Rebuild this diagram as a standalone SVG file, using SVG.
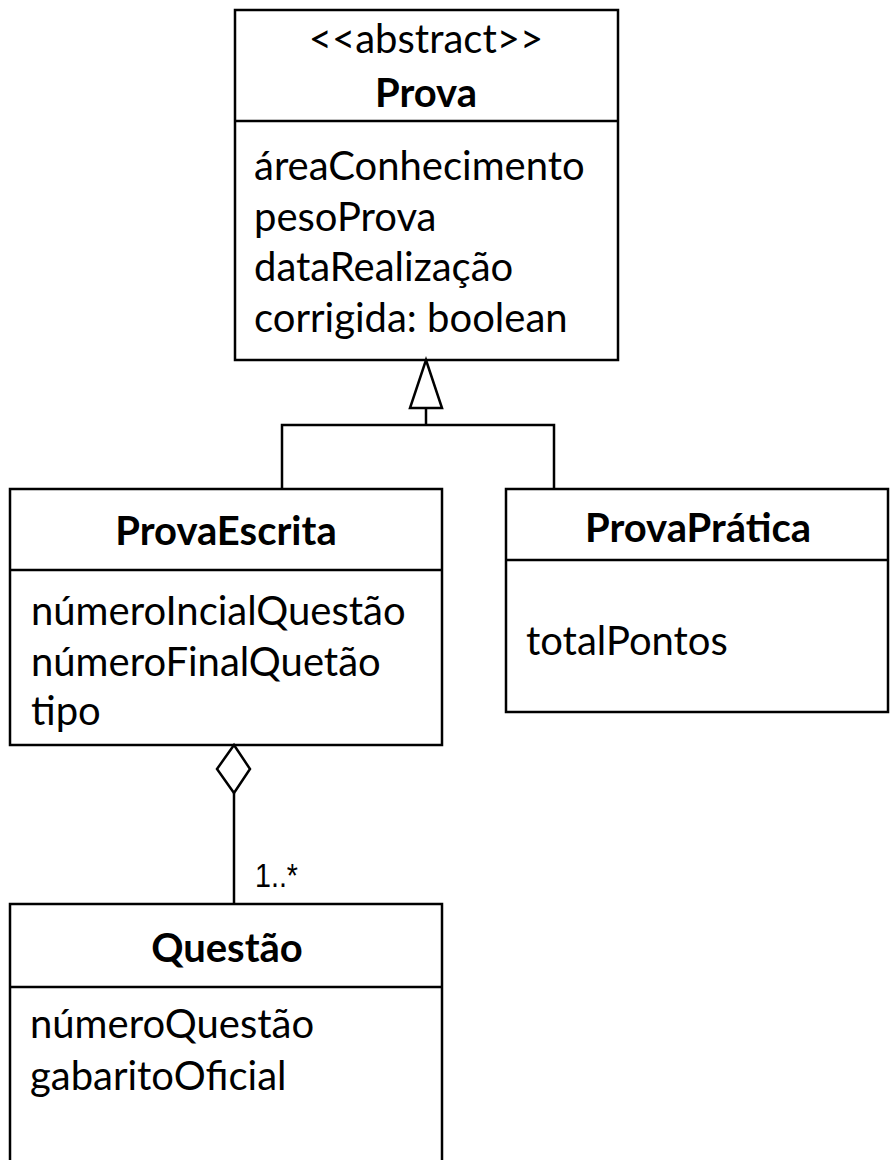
<svg xmlns="http://www.w3.org/2000/svg" width="890" height="1160" viewBox="0 0 890 1160">
<style>
.box{fill:#fff;stroke:#000;stroke-width:2.5}
.sep{stroke:#000;stroke-width:2.5}
.t{font-family:Lato,"Liberation Sans",sans-serif;font-size:40px;fill:#000}
.b{font-weight:bold;text-anchor:middle}
.c{text-anchor:middle}
.conn{fill:none;stroke:#000;stroke-width:2.5}
</style>
<g id="Prova">
<rect class="box" x="235" y="10" width="383" height="350"/>
<line class="sep" x1="235" y1="121" x2="618" y2="121"/>
<text class="t c" x="426" y="53">&lt;&lt;abstract&gt;&gt;</text>
<text class="t b" x="426" y="107">Prova</text>
<text class="t" x="254" y="180">áreaConhecimento</text>
<text class="t" x="254" y="231">pesoProva</text>
<text class="t" x="254" y="281">dataRealização</text>
<text class="t" x="254" y="332">corrigida: boolean</text>
</g>
<g id="ProvaEscrita">
<rect class="box" x="10" y="489" width="432" height="256"/>
<line class="sep" x1="10" y1="570" x2="442" y2="570"/>
<text class="t b" x="226" y="545">ProvaEscrita</text>
<text class="t" x="31" y="625">númeroIncialQuestão</text>
<text class="t" x="31" y="676">númeroFinalQuetão</text>
<text class="t" x="31" y="725">tipo</text>
</g>
<g id="ProvaPratica">
<rect class="box" x="506" y="489" width="382" height="223"/>
<line class="sep" x1="506" y1="560" x2="888" y2="560"/>
<text class="t b" x="698" y="542">ProvaPrática</text>
<text class="t" x="526" y="655">totalPontos</text>
</g>
<g id="Questao">
<rect class="box" x="10" y="904" width="432" height="270"/>
<line class="sep" x1="10" y1="987" x2="442" y2="987"/>
<text class="t b" x="227" y="962">Questão</text>
<text class="t" x="30" y="1038">númeroQuestão</text>
<text class="t" x="30" y="1090">gabaritoOficial</text>
</g>
<g id="connectors">
<polygon class="conn" points="426,360 442,408 410,408"/>
<polyline class="conn" points="426,408 426,425"/>
<polyline class="conn" points="282,489 282,425 554,425 554,489"/>
<polygon class="conn" points="234,745 250,769 234,793 217,769"/>
<line class="conn" x1="234" y1="793" x2="234" y2="904"/>
<text x="255" y="887" font-family="'Liberation Sans', Arial, sans-serif" font-size="33" fill="#000" textLength="43" lengthAdjust="spacingAndGlyphs">1..*</text>
</g>
</svg>
